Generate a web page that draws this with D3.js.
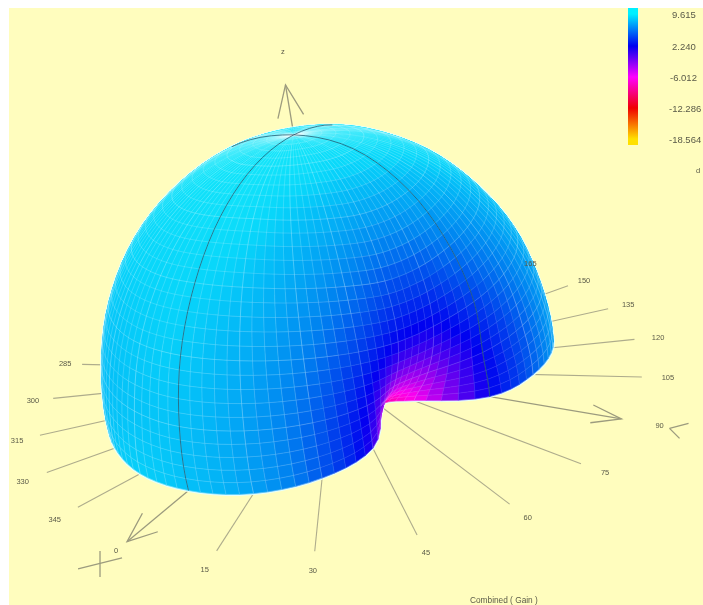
<!DOCTYPE html>
<html><head><meta charset="utf-8">
<script src="https://cdn.jsdelivr.net/npm/d3@7/dist/d3.min.js"></script>
<style>
html,body{margin:0;padding:0;background:#fff;overflow:hidden}
svg{display:block;filter:blur(0.6px)}
text{font-family:"Liberation Sans",Arial,sans-serif;font-size:7.5px;fill:#5a5a48}
</style></head><body>
<svg id="c" width="703" height="605"></svg>
<script>
// --- data ---
const azimuths = d3.range(0,360,15);
const elevations = [0,15,30,45,60,75,90];
const gainEl0  = [8.2,7.1,4.7,0.9,-6.3,-4.6,1.9,4.9,7.0,8.0,8.4,8.6,8.7,8.7,8.7,8.7,8.7,8.6,8.5,8.3,8.0,8.2,8.4,8.6];
const gainEl15 = [8.2,7.1,5.0,1.9,-2.2,-1.6,2.2,4.9,6.9,7.9,8.3,8.5,8.6,8.6,8.6,8.6,8.6,8.5,8.3,8.1,8.0,8.1,8.2,8.3];
const gainEl30 = [8.5,7.6,6.0,3.9,1.9,1.9,3.9,5.7,7.2,8.2,8.5,8.7,8.8,8.8,8.8,8.8,8.8,8.6,8.4,8.3,8.3,8.4,8.4,8.5];
const gainEl45 = [8.8,8.3,7.2,5.9,4.7,4.7,5.7,6.8,7.8,8.5,8.8,9.0,9.0,9.0,9.0,9.0,9.0,8.9,8.8,8.8,8.8,8.8,8.8,8.8];
const gainEl60 = [9.2,9.0,8.4,7.8,7.3,7.3,7.7,8.2,8.8,9.1,9.2,9.3,9.3,9.3,9.3,9.3,9.3,9.3,9.2,9.2,9.2,9.2,9.2,9.2];
const gainEl75 = [9.5,9.4,9.3,9.2,9.1,9.1,9.2,9.3,9.4,9.5,9.5,9.6,9.6,9.6,9.6,9.6,9.6,9.6,9.6,9.6,9.6,9.6,9.6,9.5];
const gainEl90 = [9.6,9.6,9.6,9.6,9.6,9.6,9.6,9.6,9.6,9.6,9.6,9.6,9.6,9.6,9.6,9.6,9.6,9.6,9.6,9.6,9.6,9.6,9.6,9.6];
const gainRows = [gainEl0,gainEl15,gainEl30,gainEl45,gainEl60,gainEl75,gainEl90];
const spokeAngles = [0,15,30,45,60,75,90,105,120,135,150,165,285,300,315,330,345];
const spokeLabels = ["0","15","30","45","60","75","90","105","120","135","150","165","285","300","315","330","345"];
const legendValues = [9.615,2.24,-6.012,-12.286,-18.564];
const legendLabels = ["9.615","2.240","-6.012","-12.286","-18.564"];
const legendColors = ["#00f0ff","#0000f0","#ff00ff","#f00000","#ffe000"];
const surfaceStops  = [9.6,8.8,8.2,6,4,2,-4.5,-12.286,-18.564];
const surfaceColors = ["#14e6fa","#08d6fa","#04c0f8","#0082f0","#0040ec","#0000f0","#ff00f0","#f00000","#ffe000"];
const axisNames = ["z"];

// --- view of the 3D scene ---
const O=[333,370], A=[-168.6,140.6], B=[263,44.6], C=[-46,-276], G=[-0.223,-0.175,-0.143];
function proj(X,Y,Z){
  const w=1+X*G[0]+Y*G[1]+Z*G[2];
  return [O[0]+(X*A[0]+Y*B[0]+Z*C[0])/w, O[1]+(X*A[1]+Y*B[1]+Z*C[1])/w, w];
}
const rad=d3.scaleLinear().domain([-17,9.615]).range([0,0.76]);
const color=d3.scaleLinear().domain(surfaceStops).range(surfaceColors).clamp(true);
const cr=(p0,p1,p2,p3,t)=>0.5*((2*p1)+(-p0+p2)*t+(2*p0-5*p1+4*p2-p3)*t*t+(-p0+3*p1-3*p2+p3)*t*t*t);
function gainAt(az,el){
  const na=azimuths.length, ne=elevations.length-1;
  const fa=((az%360)+360)%360/15, ia=Math.floor(fa), ta=fa-ia;
  const fe=Math.min(el/15,ne-1e-6), ie=Math.floor(fe), te=fe-ie;
  const rowAt=i=>gainRows[Math.max(0,Math.min(ne,i))];
  const colVal=r=>cr(r[(ia-1+na)%na],r[ia%na],r[(ia+1)%na],r[(ia+2)%na],ta);
  return cr(colVal(rowAt(ie-1)),colVal(rowAt(ie)),colVal(rowAt(ie+1)),colVal(rowAt(ie+2)),te);
}
function surf(az,el){
  const r=rad(gainAt(az,el)), a=az*Math.PI/180, e=el*Math.PI/180;
  return proj(r*Math.cos(e)*Math.cos(a), r*Math.cos(e)*Math.sin(a), r*Math.sin(e));
}
function plane(az,r){const a=az*Math.PI/180;return proj(r*Math.cos(a),r*Math.sin(a),0);}

const svg=d3.select("#c");
svg.append("rect").attr("x",9).attr("y",8).attr("width",694).attr("height",597).attr("fill","#fffdbe");
const line=d3.line();
const inkLine="#aeac8c";

// spokes, under the surface
const spokes=svg.append("g").attr("stroke",inkLine).attr("stroke-width",1.1).attr("fill","none");
spokeAngles.forEach(a=>{ if(a%90) spokes.append("path").attr("d",line([plane(a,0.2),plane(a,0.93)])); });
// axes and arrowheads
const axes=svg.append("g").attr("stroke","#9c9b7e").attr("stroke-width",1.3).attr("fill","none");
function arrow(tip,base,spread,len){
  const dx=base[0]-tip[0],dy=base[1]-tip[1],L=Math.hypot(dx,dy),ux=dx/L,uy=dy/L;
  axes.append("path").attr("d",line([base,tip]));
  axes.append("path").attr("d",line([[tip[0]+ux*len-uy*spread,tip[1]+uy*len+ux*spread],tip,[tip[0]+ux*len+uy*spread,tip[1]+uy*len-ux*spread]]));
}
arrow(plane(0,0.96),proj(0,0,0),12,30);
arrow(plane(90,0.92),proj(0,0,0),9,30);
arrow(proj(0,0,0.9),proj(0,0,0),13,32);
// axis letter crosses
const xL=plane(0,1), yL=plane(90,1.02);
const xC=[xL[0]-16,xL[1]+13], yC=[yL[0]+10,yL[1]+3];
axes.append("path").attr("d",line([[xC[0]-22,xC[1]+5],[xC[0]+22,xC[1]-6]]));
axes.append("path").attr("d",line([[xC[0],xC[1]-13],[xC[0],xC[1]+13]]));
axes.append("path").attr("d",line([yC,[yC[0]+19,yC[1]-5]]));
axes.append("path").attr("d",line([yC,[yC[0]+10,yC[1]+10]]));

// surface mesh
const dAz=3, dEl=3, cells=[];
for(let az=0;az<360;az+=dAz) for(let el=0;el<90;el+=dEl){
  const p=[surf(az,el),surf(az+dAz,el),surf(az+dAz,el+dEl),surf(az,el+dEl)];
  cells.push({az,el,p,g:gainAt(az+dAz/2,el+dEl/2),w:d3.mean(p,d=>d[2])});
}
cells.sort((a,b)=>d3.descending(a.w,b.w));
const poly=c=>"M"+c.p.map(d=>d[0].toFixed(1)+","+d[1].toFixed(1)).join("L")+"Z";
// pale halo round the silhouette
svg.append("path").attr("d",cells.map(poly).join("")).attr("fill","#e6fffb").attr("stroke","#e6fffb").attr("stroke-width",3).attr("stroke-linejoin","round");
const surface=svg.append("g");
surface.selectAll("path").data(cells).join("path")
  .attr("d",poly)
  .attr("fill",d=>color(d.g))
  .attr("stroke",d=>color(d.g))
  .attr("stroke-width",0.6);
// grid: light lines on the visible cells
const gridG=svg.append("g").attr("fill","none").attr("stroke","#fff");
function facing(c){
  const [a,b,d]=[c.p[0],c.p[1],c.p[3]];
  return (b[0]-a[0])*(d[1]-a[1])-(b[1]-a[1])*(d[0]-a[0]);
}
const sign=Math.sign(d3.sum(cells.filter(c=>c.az<30&&c.el<30),facing));
const front=cells.filter(c=>facing(c)*sign>0);
front.forEach(c=>{
  const mA=(c.az%15===0), mE=(c.el%15===0);
  const o=c.g<5?0.14:0.26;
  gridG.append("path").attr("d",line([c.p[0],c.p[3]])).attr("stroke-opacity",mA?o+0.14:o).attr("stroke-width",0.7);
  gridG.append("path").attr("d",line([c.p[0],c.p[1]])).attr("stroke-opacity",mE?o+0.08:o).attr("stroke-width",0.7);
});
// dark meridians on the front of the surface
const mer=svg.append("g").attr("fill","none").attr("stroke","#0f4a63").attr("stroke-width",1).attr("stroke-opacity",0.7);
front.filter(c=>c.az%90===0).forEach(c=>{ mer.append("path").attr("d",line([c.p[0],c.p[3]])); });

// labels
const tg=svg.append("g").attr("text-anchor","middle");
spokeAngles.forEach((a,i)=>{
  const p=plane(a,a===90?1.02:1.0);
  tg.append("text").attr("x",p[0]).attr("y",p[1]+2.5).text(spokeLabels[i]);
});
const zp=proj(0,0,0.99);
tg.append("text").attr("x",zp[0]+3).attr("y",zp[1]+2.5).text(axisNames[0]);

// legend
const yLeg=d3.scaleLinear().domain(legendValues).range([14,46,77,108,139]);
const grad=svg.append("defs").append("linearGradient").attr("id","lg").attr("x1",0).attr("x2",0).attr("y1",0).attr("y2",1);
legendValues.forEach((v,i)=>grad.append("stop").attr("offset",(yLeg(v)-8)/137).attr("stop-color",legendColors[i]));
svg.append("rect").attr("x",628).attr("y",8).attr("width",10).attr("height",137).attr("fill","url(#lg)");
const lg=svg.append("g");
legendValues.forEach((v,i)=>lg.append("text").attr("x",v>0?672:(v>-10?670:669)).attr("y",yLeg(v)+3.5).style("font-size","9.5px").text(legendLabels[i]));
svg.append("text").attr("x",696).attr("y",173).text("d");
svg.append("text").attr("x",470).attr("y",603).style("font-size","8.3px").text("Combined ( Gain )");
</script>
</body></html>
